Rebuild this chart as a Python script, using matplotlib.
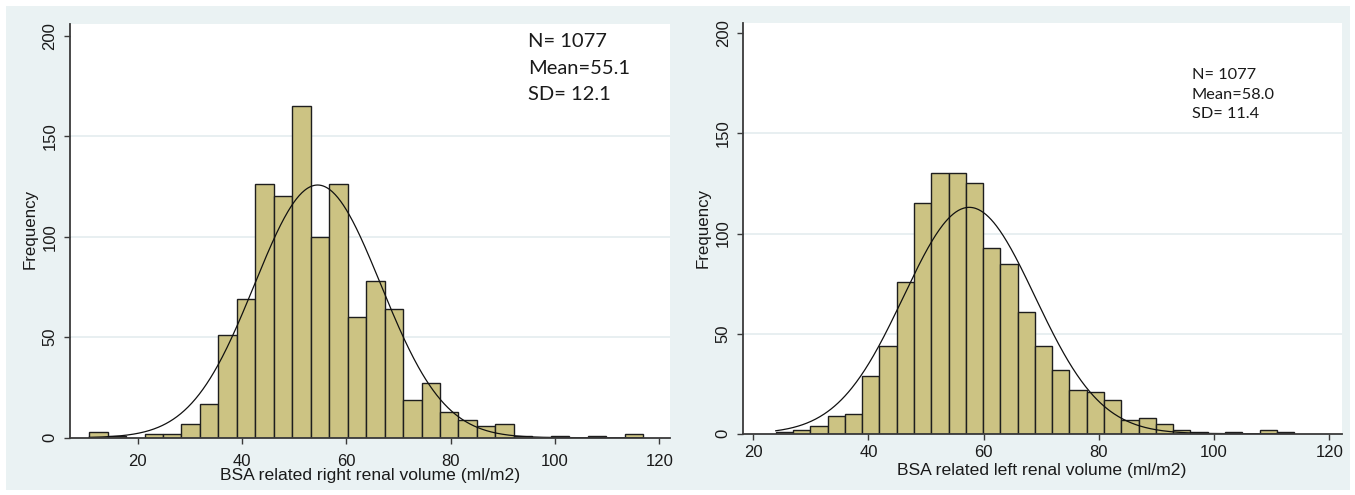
import numpy as np
import matplotlib
matplotlib.use("Agg")
import matplotlib.pyplot as plt
from matplotlib.patches import Rectangle

# ---------------- data ----------------
n_obs = 1077
# right kidney (left panel)
right_bin_start = 10.7
right_bin_width = 3.54
right_counts = [3, 1, 0, 2, 2, 7, 17, 51, 69, 126, 120, 165, 100, 126, 60,
                78, 64, 19, 27, 13, 9, 6, 7, 1, 0, 1, 0, 1, 0, 2]
right_curve_mean = 54.5
right_curve_sd = 12.1
right_stats = ["N= 1077", "Mean=55.1", "SD= 12.1"]
right_xlabel = "BSA related right renal volume (ml/m2)"

# left kidney (right panel)
left_bin_start = 23.9
left_bin_width = 3.0
left_counts = [1, 2, 4, 9, 10, 29, 44, 76, 115, 130, 130, 125, 93, 85, 61,
               44, 32, 22, 21, 17, 7, 8, 5, 2, 1, 0, 1, 0, 2, 1]
left_curve_mean = 57.5
left_curve_sd = 11.4
left_stats = ["N= 1077", "Mean=58.0", "SD= 11.4"]
left_xlabel = "BSA related left renal volume (ml/m2)"

x_ticks = [20, 40, 60, 80, 100, 120]
y_ticks = [0, 50, 100, 150, 200]
y_label = "Frequency"

# ---------------- style ----------------
W, H = 1355, 495
BG = "#EAF2F3"
BAR = "#CCC383"
EDGE = "#1e1e1e"
AX = "#3a3a3a"
TXT = "#1a1a1a"
TICK_FONT = "Liberation Sans"
NOTE_FONT = "Lato"

fig = plt.figure(figsize=(W / 100, H / 100), dpi=100)
fig.patch.set_facecolor("white")
fig.patches.append(Rectangle((6 / W, 5 / H), (1350 - 6) / W, (H - 6 - 5) / H,
                             transform=fig.transFigure, facecolor=BG,
                             edgecolor="none", zorder=-5))


def px(x, y):
    return x / W, 1 - y / H


def panel(rect_px, xlim, ylim, start, width, counts, mu, sd, stats,
          stats_pos, stats_size, stats_step, xlabel, xlabel_base,
          ylabel_x, ylabel_y, xpad):
    x0, y0, x1, y1 = rect_px
    ax = fig.add_axes([x0 / W, 1 - y1 / H, (x1 - x0) / W, (y1 - y0) / H])
    ax.set_facecolor("white")
    ax.set_xlim(*xlim)
    ax.set_ylim(*ylim)
    for yv in y_ticks[1:-1]:
        ax.axhline(yv, color="#E6EEF0", lw=1.3, zorder=0)
    counts = np.asarray(counts, dtype=float)
    edges = start + width * np.arange(len(counts) + 1)
    nz = counts > 0
    ax.bar(edges[:-1][nz], counts[nz], width=width, align="edge",
           color=BAR, edgecolor=EDGE, linewidth=1.0, zorder=2)
    xs = np.linspace(edges[0], edges[-1], 600)
    ys = n_obs * width / (sd * np.sqrt(2 * np.pi)) * np.exp(-0.5 * ((xs - mu) / sd) ** 2)
    ax.plot(xs, ys, color="#111111", lw=0.9, zorder=3)

    for s in ["top", "right"]:
        ax.spines[s].set_visible(False)
    for s in ["left", "bottom"]:
        ax.spines[s].set_color(AX)
        ax.spines[s].set_linewidth(1.3)
        ax.spines[s].set_zorder(4)
    ax.set_xticks(x_ticks)
    ax.set_xticklabels([str(v) for v in x_ticks], fontfamily=TICK_FONT,
                       fontsize=12, color=TXT)
    ax.set_yticks(y_ticks)
    ax.set_yticklabels([str(v) for v in y_ticks], fontfamily=TICK_FONT,
                       fontsize=12, color=TXT, rotation=90, va="center")
    ax.tick_params(axis="both", direction="out", length=4.3, width=1.0,
                   color=AX)
    ax.tick_params(axis="x", pad=xpad)
    ax.tick_params(axis="y", pad=4.3)

    cx = (x0 + x1) / 2
    fig.text(*px(cx, xlabel_base), xlabel, ha="center", va="baseline",
             fontfamily=TICK_FONT, fontsize=12.6, color=TXT)
    fig.text(*px(ylabel_x, ylabel_y), y_label, ha="center", va="center",
             rotation=90, fontfamily=TICK_FONT, fontsize=12.2, color=TXT)
    sx, sy = stats_pos
    for i, line in enumerate(stats):
        fig.text(*px(sx, sy + i * stats_step), line, ha="left", va="baseline",
                 fontfamily=NOTE_FONT, fontsize=stats_size, color=TXT)
    return ax


panel((69.5, 24, 670, 437.7), (6.93, 122.05), (0, 205.8),
      right_bin_start, right_bin_width, right_counts,
      right_curve_mean, right_curve_sd, right_stats,
      (528, 47.3), 14.5, 26.3, right_xlabel, 480, 30.4, 229, 7.2)

panel((742.7, 23.3, 1341.7, 433.7), (18.16, 122.17), (0, 205.0),
      left_bin_start, left_bin_width, left_counts,
      left_curve_mean, left_curve_sd, left_stats,
      (1191.7, 79.3), 11.8, 19.5, left_xlabel, 475.5, 703, 228, 4.0)

fig.savefig("out.png", dpi=100, facecolor=fig.get_facecolor())
